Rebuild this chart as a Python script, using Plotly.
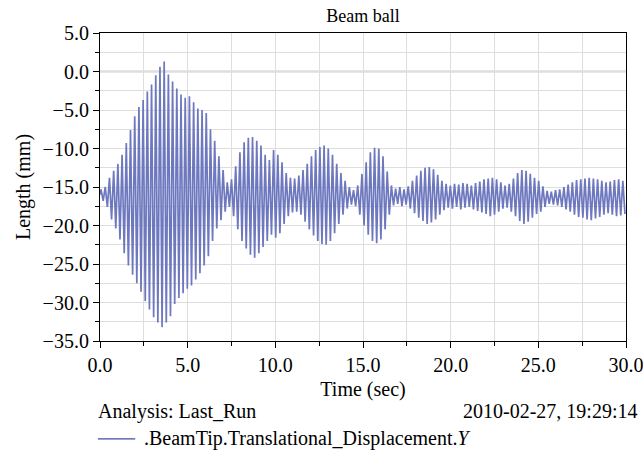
import numpy as np
import plotly.graph_objects as go

# Peak values, one pair per oscillation cycle (period ~0.24 s)
start_value = -16.0
upper_peaks = [
    -15.3, -15.0, -13.8, -12.9, -12.0, -10.8, -9.3, -7.6, -5.8, -4.6,
    -3.7, -2.6, -1.7, -0.5, 0.6, 1.3, -0.4, -1.3, -2.2, -3.0,
    -3.4, -3.2, -4.0, -4.8, -5.0, -5.4, -7.5, -9.0, -11.0, -12.8,
    -14.4, -14.0, -12.3, -10.5, -9.2, -8.6, -8.5, -9.0, -9.6, -10.8,
    -11.5, -10.2, -10.8, -11.8, -13.2, -13.8, -13.9, -13.5, -12.8, -12.0,
    -11.0, -10.2, -9.8, -9.6, -10.0, -10.8, -12.0, -13.2, -14.2, -15.0,
    -15.4, -14.8, -13.3, -11.8, -10.5, -9.9, -10.0, -11.0, -13.0, -14.8,
    -15.2, -15.0, -15.3, -14.9, -14.2, -13.5, -12.9, -12.5, -12.4, -12.7,
    -13.4, -14.2, -14.6, -14.8, -14.6, -14.7, -14.5, -14.6, -14.8, -14.5,
    -14.3, -14.0, -13.9, -13.8, -14.0, -14.4, -14.8, -14.6, -13.9, -13.2,
    -12.8, -12.9, -13.3, -13.8, -14.2, -14.9, -15.5, -15.6, -15.4, -15.3,
    -15.0, -14.7, -14.4, -14.1, -14.0, -13.9, -13.8, -13.9, -14.0, -14.2,
    -14.4, -14.3, -14.1, -14.0, -14.2,
]
lower_peaks = [
    -16.8, -17.6, -19.2, -20.4, -21.8, -23.6, -25.2, -26.4, -27.5, -28.6,
    -29.8, -30.9, -31.9, -32.6, -33.2, -32.6, -31.8, -30.2, -29.4, -28.8,
    -28.2, -27.8, -27.0, -26.2, -25.2, -24.0, -22.0, -20.4, -19.3, -18.2,
    -17.6, -18.8, -20.5, -22.0, -23.0, -23.8, -24.2, -23.6, -22.8, -22.0,
    -21.2, -21.6, -21.0, -19.8, -18.8, -18.3, -18.2, -18.6, -19.5, -20.5,
    -21.3, -22.0, -22.4, -22.5, -22.0, -21.0, -19.8, -18.6, -17.8, -17.3,
    -17.5, -18.6, -20.0, -21.2, -22.0, -22.3, -21.8, -20.5, -18.6, -17.4,
    -17.2, -17.5, -17.3, -17.8, -18.4, -19.0, -19.4, -19.8, -19.6, -19.2,
    -18.6, -18.0, -17.7, -17.8, -17.6, -17.9, -17.7, -17.6, -17.9, -18.1,
    -18.3, -18.5, -18.8, -18.6, -18.2, -17.8, -17.7, -18.2, -18.8, -19.4,
    -19.8, -19.5, -19.0, -18.5, -18.2, -17.6, -17.2, -17.3, -17.4, -17.6,
    -17.9, -18.2, -18.6, -18.9, -19.0, -19.2, -19.3, -19.1, -18.9, -18.6,
    -18.4, -18.6, -18.8, -18.7, -18.5,
]
cycle_period = 0.24  # s

# Build the time series: start point, then alternating max/min for each cycle
n = len(upper_peaks)
t_up = 0.06 + cycle_period * np.arange(n)
t_lo = t_up + cycle_period / 2
t = np.empty(2 * n + 1)
y = np.empty(2 * n + 1)
t[0], y[0] = 0.0, start_value
t[1::2], y[1::2] = t_up, upper_peaks
t[2::2], y[2::2] = t_lo, lower_peaks

serif = "Liberation Serif"
line_color = "rgb(110,120,190)"
FS = 20

fig = go.Figure()
fig.add_trace(go.Scatter(x=t, y=y, mode="lines",
                         line=dict(color=line_color, width=1.7),
                         showlegend=False, hoverinfo="skip"))

axis_common = dict(
    showline=True, linecolor="black", linewidth=1.2, mirror=True,
    ticks="outside", ticklen=6, tickcolor="black", tickwidth=1,
    showgrid=True, gridcolor="#dedede", gridwidth=1,
    tickfont=dict(family=serif, size=FS, color="black"),
    zeroline=False, ticklabeloverflow="allow", automargin=False,
)

fig.update_xaxes(
    range=[0, 30], tickvals=[0, 5, 10, 15, 20, 25, 30], tickformat=".1f",
    minor=dict(dtick=2.5, tick0=0, ticks="outside", ticklen=4, tickcolor="black",
               showgrid=True, gridcolor="#dedede"),
    title=dict(text="Time (sec)", font=dict(family=serif, size=FS, color="black"),
               standoff=6),
    **axis_common,
)
fig.update_yaxes(
    range=[-35, 5], tickvals=[-35, -30, -25, -20, -15, -10, -5, 0, 5], tickformat=".1f",
    minor=dict(dtick=2.5, tick0=0, ticks="outside", ticklen=4, tickcolor="black",
               showgrid=True, gridcolor="#dedede"),
    title=dict(text="Length (mm)", font=dict(family=serif, size=FS, color="black"),
               standoff=6),
    **axis_common,
)

# zero reference line (darker)
fig.add_hline(y=0, line=dict(color="#9a9a9a", width=1.5), layer="below")

fig.add_annotation(text="Analysis: Last_Run", xref="paper", yref="paper",
                   x=-0.008, y=-0.228, xanchor="left", yanchor="middle", showarrow=False,
                   font=dict(family=serif, size=FS, color="black"))
fig.add_annotation(text="2010-02-27, 19:29:14", xref="paper", yref="paper",
                   x=1.024, y=-0.228, xanchor="right", yanchor="middle", showarrow=False,
                   font=dict(family=serif, size=FS, color="black"))
fig.add_annotation(text=".BeamTip.Translational_Displacement.<i>Y</i>", xref="paper", yref="paper",
                   x=0.079, y=-0.318, xanchor="left", yanchor="middle", showarrow=False,
                   font=dict(family=serif, size=FS, color="black"))
fig.add_shape(type="line", xref="paper", yref="paper", x0=-0.004, x1=0.067,
              y0=-0.318, y1=-0.318, line=dict(color="rgb(60,75,170)", width=1.2))

fig.update_layout(
    width=643, height=455,
    margin=dict(l=100, r=17, t=33, b=114),
    plot_bgcolor="white", paper_bgcolor="white",
    font=dict(family=serif),
    title=dict(text="Beam ball", x=0.5, xanchor="center", xref="paper",
               y=0.965, yanchor="middle",
               font=dict(family=serif, size=18, color="black")),
    showlegend=False,
)

fig.write_html("out.html")
